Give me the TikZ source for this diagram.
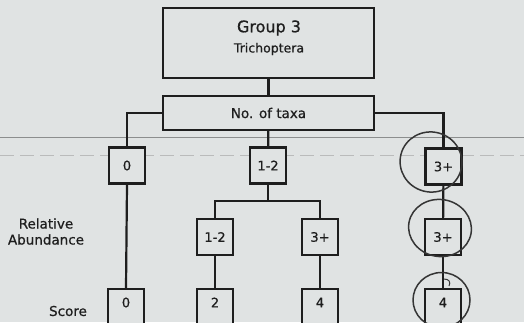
\documentclass[tikz,border=0pt]{standalone}
\usepackage{fontspec}
\setmainfont{DejaVu Sans}[FakeBold=0.7]
\definecolor{bgc}{RGB}{224,227,227}
\definecolor{ink}{RGB}{30,30,30}
\definecolor{faint}{RGB}{140,142,142}
\begin{document}
\begin{tikzpicture}[x=1pt,y=-1pt,
  box/.style={draw=ink,line width=2.3pt,fill=bgc,inner sep=0pt,text=ink},
  numbox/.style={box,minimum width=36pt,minimum height=36pt,font=\fontsize{13}{13}\selectfont},
  conn/.style={draw=ink,line width=2.2pt},
  lbl/.style={text=ink,font=\fontsize{13.5}{16}\selectfont,align=center,inner sep=0pt},
  pen/.style={draw=ink!90,line width=1.5pt}]
\useasboundingbox (0,0) rectangle (524,322);
\fill[bgc] (0,0) rectangle (524,322);
% faint lines showing through from the page behind
\draw[faint,line width=1pt] (0,137) -- (524,137);
\draw[faint!60,line width=0.8pt,dash pattern=on 14pt off 6pt] (0,155) -- (524,155);
% nodes
\node[box,minimum width=211pt,minimum height=70pt] (g3) at (268.5,43) {};
\node[lbl,font=\fontsize{16}{16}\selectfont] (g3t) at (269,28) {Group 3};
\node[lbl,font=\fontsize{12.5}{13}\selectfont] (g3s) at (269,49) {Trichoptera};
\node[box,minimum width=211pt,minimum height=34pt,font=\fontsize{13.5}{14}\selectfont] (taxa) at (268.5,113) {No. of taxa};
\node[numbox] (a0) at (127,165.5) {0};
\node[numbox] (a12) at (268,165.5) {1-2};
\node[numbox] (a3) at (443.5,166.5) {3+};
\node[numbox] (b12) at (215,237) {1-2};
\node[numbox] (b3) at (320,237) {3+};
\node[numbox] (c3) at (443,237) {3+};
\node[numbox] (s0) at (126,307) {};
\node[numbox] (s2) at (215,307) {};
\node[numbox] (s4) at (320,307) {};
\node[numbox] (s4r) at (443,307) {};
\node[lbl,font=\fontsize{13}{13}\selectfont] at (126,302.5) {0};
\node[lbl,font=\fontsize{13}{13}\selectfont] at (215,302.5) {2};
\node[lbl,font=\fontsize{13}{13}\selectfont] at (320,302.5) {4};
\node[lbl,font=\fontsize{13}{13}\selectfont] at (443,302.5) {4};
\node[lbl] (ra) at (46,231.5) {Relative\\Abundance};
\node[lbl] (sc) at (68,311) {Score};
% connectors
\draw[conn] (g3) -- (taxa);
\draw[conn] (taxa.west) -| (a0.north);
\draw[conn] (taxa.east) -| (a3.north);
\draw[conn] (taxa) -- (a12);
\coordinate (split) at (268,201);
\draw[conn] (a12.south) -- (split);
\draw[conn] (split) -| (b12.north);
\draw[conn] (split) -| (b3.north);
\draw[conn] (a0.south) -- (s0.north);
\draw[conn] (b12) -- (s2);
\draw[conn] (b3) -- (s4);
\draw[conn] (a3) -- (c3);
\draw[conn] (c3) -- (s4r);
% hand-drawn circles
\draw[pen,rotate around={-15:(431,162)}] (431,162) ellipse (31pt and 30pt);
\draw[pen,rotate around={-10:(440,228)}] (440,228) ellipse (31.5pt and 28.5pt);
\draw[pen] (441.5,300) ellipse (28.5pt and 27.5pt);
\draw[pen,line width=1pt] (444,279) .. controls (449,279) and (451,282) .. (449,286);
\end{tikzpicture}
\end{document}
